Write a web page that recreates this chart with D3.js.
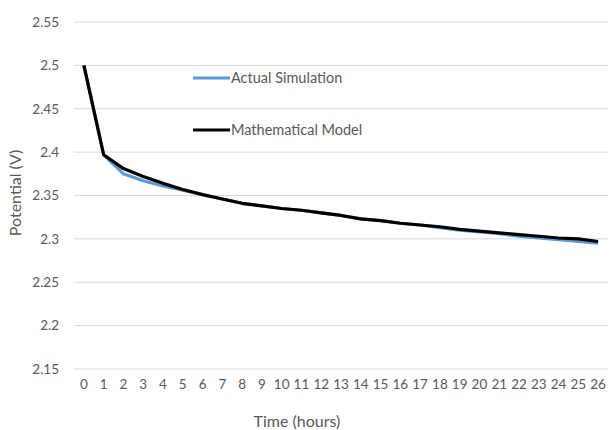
<!DOCTYPE html>
<html>
<head>
<meta charset="utf-8">
<script src="https://cdn.jsdelivr.net/npm/d3@7"></script>
<style>
  html, body { margin: 0; padding: 0; background: #fff; }
  svg text { font-family: Lato, "Open Sans", "Liberation Sans", sans-serif; fill: #595959; }
</style>
</head>
<body>
<svg id="chart" width="609" height="430"></svg>
<script>
// Elapsed time in hours (category axis)
const hours = d3.range(0, 27).map(String);

// Cell potential in volts
const actualSimulation = [2.500, 2.397, 2.375, 2.367, 2.361, 2.356, 2.351, 2.346, 2.341, 2.338,
  2.335, 2.333, 2.330, 2.327, 2.323, 2.321, 2.318, 2.316, 2.313, 2.310,
  2.308, 2.306, 2.303, 2.301, 2.299, 2.297, 2.295];
const mathematicalModel = [2.500, 2.397, 2.381, 2.372, 2.364, 2.357, 2.351, 2.346, 2.341, 2.338,
  2.335, 2.333, 2.330, 2.327, 2.323, 2.321, 2.318, 2.316, 2.314, 2.311,
  2.309, 2.307, 2.305, 2.303, 2.301, 2.300, 2.297];

const yTicks = [2.15, 2.2, 2.25, 2.3, 2.35, 2.4, 2.45, 2.5, 2.55];

const seriesNames = ["Actual Simulation", "Mathematical Model"];
const seriesColors = ["#5B9BD5", "#000000"];

const svg = d3.select("#chart");
const plotLeft = 74, plotRight = 608, plotTop = 22, plotBottom = 369;

const x = d3.scaleBand().domain(hours).range([plotLeft, plotRight]);
const y = d3.scaleLinear().domain([2.15, 2.55]).range([plotBottom, plotTop]);
const cx = d => x(d) + x.bandwidth() / 2;

// Horizontal gridlines
svg.append("g")
  .selectAll("line")
  .data(yTicks)
  .join("line")
  .attr("x1", plotLeft).attr("x2", plotRight)
  .attr("y1", d => y(d)).attr("y2", d => y(d))
  .attr("stroke", "#d9d9d9").attr("stroke-width", 1);

// Y axis labels
const yAxis = svg.append("g")
  .attr("transform", `translate(${plotLeft - 15},0)`)
  .call(d3.axisLeft(y).tickValues(yTicks).tickFormat(d3.format("")).tickSize(0).tickPadding(0));
yAxis.select(".domain").remove();
yAxis.selectAll("text").style("font-size", "13.5px");

// X axis labels
const xAxis = svg.append("g")
  .attr("transform", `translate(0,${plotBottom + 10})`)
  .call(d3.axisBottom(x).tickSize(0).tickPadding(0));
xAxis.select(".domain").remove();
xAxis.selectAll("text").style("font-size", "13.5px");

// Series lines
const line = d3.line()
  .x((d, i) => cx(hours[i]))
  .y(d => y(d));

[actualSimulation, mathematicalModel].forEach((vals, k) => {
  svg.append("path")
    .datum(vals)
    .attr("fill", "none")
    .attr("stroke", seriesColors[k])
    .attr("stroke-width", 3.2)
    .attr("stroke-linejoin", "round")
    .attr("d", line);
});

// Legend
const legendY = [78, 130];
seriesNames.forEach((name, k) => {
  svg.append("line")
    .attr("x1", 193).attr("x2", 230)
    .attr("y1", legendY[k]).attr("y2", legendY[k])
    .attr("stroke", seriesColors[k]).attr("stroke-width", 3.2);
  svg.append("text")
    .attr("x", 231).attr("y", legendY[k])
    .attr("dy", "0.35em")
    .style("font-size", "14.5px")
    .text(name);
});

// Axis titles
svg.append("text")
  .attr("x", 297).attr("y", 427)
  .attr("text-anchor", "middle")
  .style("font-size", "16px")
  .text("Time (hours)");

svg.append("text")
  .attr("transform", "translate(21,193) rotate(-90)")
  .attr("text-anchor", "middle")
  .style("font-size", "16px")
  .text("Potential (V)");
</script>
</body>
</html>
